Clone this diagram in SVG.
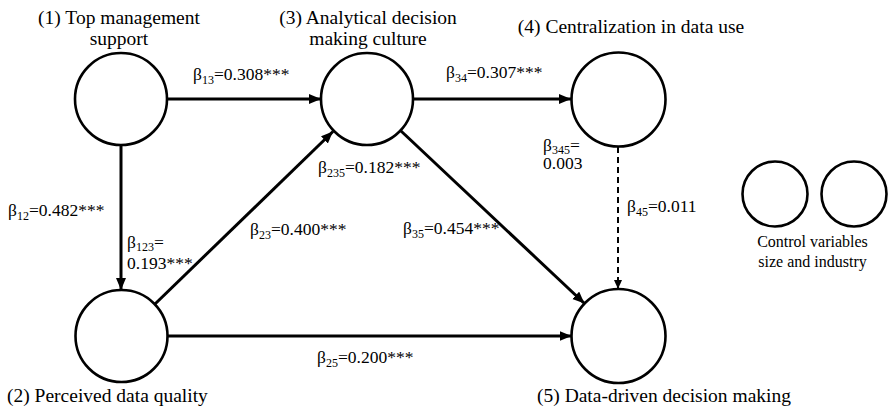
<svg xmlns="http://www.w3.org/2000/svg" width="888" height="411" viewBox="0 0 888 411">
<defs>
<marker id="ah" markerUnits="userSpaceOnUse" markerWidth="14" markerHeight="12" refX="12" refY="5" orient="auto">
<path d="M0,0 L12,5 L0,10 z" fill="#000"/>
</marker>
<marker id="ahs" markerUnits="userSpaceOnUse" markerWidth="12" markerHeight="10" refX="9" refY="4" orient="auto">
<path d="M0,0 L9,4 L0,8 z" fill="#000"/>
</marker>
</defs>
<rect width="888" height="411" fill="#fff"/>
<g id="connectors">
<g stroke="#000" stroke-width="3" fill="none" marker-end="url(#ah)">
<line x1="168" y1="99" x2="321" y2="99"/>
<line x1="414" y1="99" x2="571" y2="99"/>
<line x1="121" y1="146" x2="121" y2="290"/>
<line x1="155" y1="304" x2="333" y2="131.5"/>
<line x1="401" y1="131" x2="584.5" y2="303.5"/>
<line x1="168" y1="336" x2="571.5" y2="336"/>
</g>
<line x1="618" y1="147" x2="618" y2="289" stroke="#000" stroke-width="2" fill="none" stroke-dasharray="6 4" marker-end="url(#ahs)"/>
<text font-family="Times New Roman, Liberation Serif, serif" font-size="17.5" x="193" y="80">β<tspan font-size="12" dy="4">13</tspan><tspan dy="-4">=0.308***</tspan></text>
<text font-family="Times New Roman, Liberation Serif, serif" font-size="17.5" x="446" y="78">β<tspan font-size="12" dy="4">34</tspan><tspan dy="-4">=0.307***</tspan></text>
<text font-family="Times New Roman, Liberation Serif, serif" font-size="17.5" x="8" y="216">β<tspan font-size="12" dy="4">12</tspan><tspan dy="-4">=0.482***</tspan></text>
<text font-family="Times New Roman, Liberation Serif, serif" font-size="17.5" x="127" y="248">β<tspan font-size="12" dy="3">123</tspan><tspan dy="-3">=</tspan></text>
<text font-family="Times New Roman, Liberation Serif, serif" font-size="17.5" x="127" y="269">0.193***</text>
<text font-family="Times New Roman, Liberation Serif, serif" font-size="17.5" x="250" y="235">β<tspan font-size="12" dy="4">23</tspan><tspan dy="-4">=0.400***</tspan></text>
<text font-family="Times New Roman, Liberation Serif, serif" font-size="17.5" x="318" y="173">β<tspan font-size="12" dy="4">235</tspan><tspan dy="-4">=0.182***</tspan></text>
<text font-family="Times New Roman, Liberation Serif, serif" font-size="17.5" x="403" y="234">β<tspan font-size="12" dy="4">35</tspan><tspan dy="-4">=0.454***</tspan></text>
<text font-family="Times New Roman, Liberation Serif, serif" font-size="17.5" x="317" y="363">β<tspan font-size="12" dy="4">25</tspan><tspan dy="-4">=0.200***</tspan></text>
<text font-family="Times New Roman, Liberation Serif, serif" font-size="17.5" x="543" y="151">β<tspan font-size="12" dy="3">345</tspan><tspan dy="-3">=</tspan></text>
<text font-family="Times New Roman, Liberation Serif, serif" font-size="17.5" x="543" y="169">0.003</text>
<text font-family="Times New Roman, Liberation Serif, serif" font-size="17.5" x="627" y="212">β<tspan font-size="12" dy="4">45</tspan><tspan dy="-4">=0.011</tspan></text>
</g>
<g id="node1">
<circle cx="121" cy="99" r="46" fill="#fff" stroke="#000" stroke-width="2.6"/>
<text font-family="Times New Roman, Liberation Serif, serif" font-size="19.5" x="119" y="24" text-anchor="middle">(1) Top management</text>
<text font-family="Times New Roman, Liberation Serif, serif" font-size="19.5" x="119" y="45" text-anchor="middle">support</text>
</g>
<g id="node2">
<circle cx="121.5" cy="336" r="46" fill="#fff" stroke="#000" stroke-width="2.6"/>
<text font-family="Times New Roman, Liberation Serif, serif" font-size="19.5" x="7" y="402">(2) Perceived data quality</text>
</g>
<g id="node3">
<circle cx="367" cy="99" r="46" fill="#fff" stroke="#000" stroke-width="2.6"/>
<text font-family="Times New Roman, Liberation Serif, serif" font-size="19.5" x="368" y="24" text-anchor="middle">(3) Analytical decision</text>
<text font-family="Times New Roman, Liberation Serif, serif" font-size="19.5" x="368" y="45" text-anchor="middle">making culture</text>
</g>
<g id="node4">
<circle cx="618.5" cy="99.5" r="47" fill="#fff" stroke="#000" stroke-width="2.6"/>
<text font-family="Times New Roman, Liberation Serif, serif" font-size="19.5" x="631" y="33" text-anchor="middle">(4) Centralization in data use</text>
</g>
<g id="node5">
<circle cx="618.5" cy="336" r="47" fill="#fff" stroke="#000" stroke-width="2.6"/>
<text font-family="Times New Roman, Liberation Serif, serif" font-size="19.5" x="664" y="402" text-anchor="middle">(5) Data-driven decision making</text>
</g>
<g id="controls">
<circle cx="775" cy="194" r="32.5" fill="#fff" stroke="#000" stroke-width="2.6"/>
<circle cx="854" cy="194" r="32.5" fill="#fff" stroke="#000" stroke-width="2.6"/>
<text font-family="Times New Roman, Liberation Serif, serif" font-size="16" x="812.5" y="247" text-anchor="middle">Control variables</text>
<text font-family="Times New Roman, Liberation Serif, serif" font-size="16" x="812.5" y="267" text-anchor="middle">size and industry</text>
</g>
</svg>
